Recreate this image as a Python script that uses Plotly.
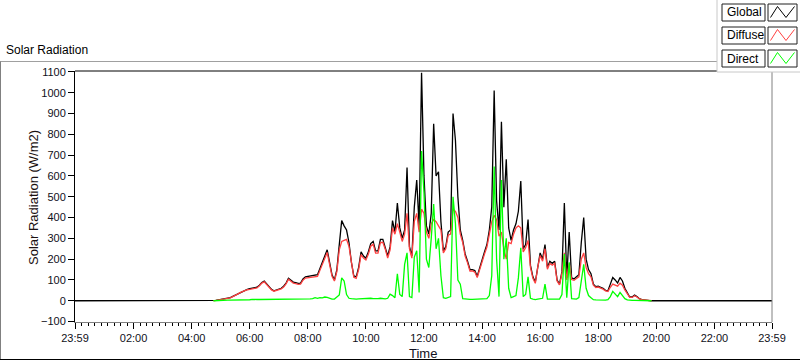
import plotly.graph_objects as go

# ---------------- data (W/m2), 5-minute samples starting 04:45 ----------------
START_MIN = 285   # 04:45
STEP_MIN = 5
DAY_START = -1    # 23:59 of previous day
DAY_END = 1439    # 23:59

GLOBAL = [
    0, 2, 4,
    6, 8, 11, 12, 15, 21, 27, 34, 41, 47, 51, 55,
    58, 60, 60, 65, 75, 88, 95, 82, 65, 55, 48, 52,
    56, 60, 70, 85, 108, 98, 90, 87, 84, 85, 105, 115,
    117, 118, 120, 122, 125, 155, 185, 215, 245, 185, 125, 100,
    150, 270, 385, 360, 340, 280, 185, 120, 115, 160, 235, 215,
    205, 235, 275, 285, 240, 240, 295, 295, 260, 215, 260, 385,
    330, 470, 350, 300, 340, 640, 260, 215, 450, 580, 360, 1095,
    600, 360, 320, 420, 850, 600, 620, 380, 240, 260, 330, 340,
    900, 770, 500, 340, 290, 225, 190, 150, 150, 145, 118, 160,
    195, 235, 270, 340, 450, 1010, 480, 340, 860, 450, 680, 350,
    290, 340, 370, 430, 575, 250, 270, 390, 170, 115, 90, 170,
    230, 200, 270, 160, 190, 180, 190, 100, 80, 140, 470, 110,
    330, 110, 105, 115, 125, 280, 400, 200, 150, 130, 80, 68,
    70, 65, 60, 50, 48, 80, 112, 100, 85, 112, 95, 60,
    35, 18, 18, 27, 20, 10, 6, 4, 2, 0, 0,
]

DIFFUSE = [
    0, 2, 4,
    6, 8, 10, 11, 14, 20, 25, 32, 39, 45, 49, 53,
    55, 57, 57, 62, 72, 85, 91, 79, 62, 52, 46, 49,
    53, 57, 66, 81, 103, 93, 85, 82, 79, 80, 99, 109,
    111, 111, 113, 115, 117, 146, 175, 204, 232, 175, 118, 95,
    140, 245, 285, 290, 295, 262, 175, 113, 108, 150, 222, 205,
    196, 223, 262, 272, 229, 229, 280, 281, 248, 205, 245, 350,
    320, 370, 330, 285, 320, 420, 250, 205, 380, 420, 330, 440,
    420, 330, 300, 370, 390, 380, 360, 340, 230, 250, 315, 320,
    440, 430, 400, 320, 280, 215, 182, 143, 143, 138, 112, 152,
    186, 224, 258, 318, 380, 410, 390, 310, 330, 250, 200, 280,
    275, 320, 350, 360, 350, 235, 255, 290, 160, 108, 84, 160,
    218, 190, 250, 152, 180, 171, 180, 95, 76, 130, 230, 100,
    180, 102, 98, 107, 115, 200, 230, 160, 130, 115, 75, 64,
    66, 61, 56, 47, 45, 65, 80, 75, 70, 85, 75, 52,
    31, 16, 16, 24, 18, 9, 5, 3, 2, 0, 0,
]

DIRECT = [
    0, 1, 2,
    2, 2, 3, 3, 3, 3, 4, 4, 5, 5, 6, 6,
    5, 7, 5, 6, 6, 6, 6, 6, 6, 6, 6, 6,
    6, 6, 6, 6, 7, 7, 7, 7, 7, 7, 8, 8,
    9, 9, 10, 15, 12, 15, 14, 18, 16, 12, 8, 8,
    20, 28, 110, 95, 30, 12, 10, 8, 8, 9, 10, 8,
    9, 10, 12, 10, 9, 10, 12, 10, 9, 12, 32, 25,
    15, 130, 30, 20, 175, 230, 20, 15, 210, 240, 40, 720,
    520, 200, 160, 300, 465, 250, 300, 120, 15, 12, 15, 20,
    500, 370, 100, 80, 10, 8, 8, 7, 7, 7, 7, 8,
    8, 10, 10, 25, 120, 645, 200, 20, 580, 200, 300, 60,
    15, 20, 25, 110, 255, 20, 30, 115, 12, 8, 6, 8,
    10, 12, 80, 8, 8, 8, 8, 6, 8, 30, 225, 15,
    185, 10, 8, 8, 15, 90, 175, 60, 25, 15, 5, 4,
    3, 3, 3, 3, 5, 20, 45, 30, 20, 40, 25, 10,
    4, 2, 2, 2, 2, 1, 1, 1, 0, 0, 0,
]

X_TICK_VALS = [-1, 120, 240, 360, 480, 600, 720, 840, 960, 1080, 1200, 1320, 1439]
X_TICK_TEXT = ["23:59", "02:00", "04:00", "06:00", "08:00", "10:00", "12:00",
               "14:00", "16:00", "18:00", "20:00", "22:00", "23:59"]

SERIES_NAMES = ["Global", "Diffuse", "Direct"]
SERIES_COLORS = ["#000000", "#ff4040", "#00ff00"]

times = [START_MIN + i * STEP_MIN for i in range(len(GLOBAL))]

# ---------------- figure ----------------
W, H = 800, 361
PL, PT, PW, PH = 75, 71, 697, 251


def px(x):
    return (x - PL) / PW


def py(y):
    return (PT + PH - y) / PH


FONT = "Liberation Sans"
TXT = "#101020"

fig = go.Figure()
fig.add_trace(go.Scatter(x=[DAY_START] + times + [DAY_END], y=[0] + GLOBAL + [0],
                         mode="lines", name=SERIES_NAMES[0],
                         line=dict(color=SERIES_COLORS[0], width=1.3)))
fig.add_trace(go.Scatter(x=times, y=DIFFUSE, mode="lines", name=SERIES_NAMES[1],
                         line=dict(color=SERIES_COLORS[1], width=1.3)))
fig.add_trace(go.Scatter(x=times, y=DIRECT, mode="lines", name=SERIES_NAMES[2],
                         line=dict(color=SERIES_COLORS[2], width=1.3)))

fig.update_layout(
    width=W, height=H,
    margin=dict(l=PL, r=W - PL - PW, t=PT, b=H - PT - PH, pad=0, autoexpand=False),
    paper_bgcolor="white", plot_bgcolor="white",
    showlegend=False,
    font=dict(family=FONT, size=11, color=TXT),
)

fig.update_xaxes(
    range=[DAY_START, DAY_END], automargin=False,
    tickmode="array", tickvals=X_TICK_VALS, ticktext=X_TICK_TEXT,
    ticks="outside", ticklen=6, tickwidth=1, tickcolor="#000000",
    showgrid=False, zeroline=False,
    showline=True, linecolor="#808080", linewidth=1,
    tickfont=dict(family=FONT, size=11, color=TXT),
    minor=dict(tickmode="linear", tick0=0, dtick=120 / 9, ticks="outside",
               ticklen=3, tickcolor="#000000", showgrid=False),
)
fig.update_yaxes(
    range=[-102, 1104], automargin=False,
    tickmode="linear", tick0=0, dtick=100,
    ticks="outside", ticklen=6, tickwidth=1, tickcolor="#000000",
    showgrid=False, zeroline=False,
    showline=True, linecolor="#000000", linewidth=1,
    tickfont=dict(family=FONT, size=11, color=TXT),
)

shapes = []
# plot frame: top black, right gray
shapes.append(dict(type="line", xref="paper", yref="paper", x0=0, x1=1, y0=1, y1=1,
                   line=dict(color="#000000", width=1)))
shapes.append(dict(type="line", xref="paper", yref="paper", x0=1, x1=1, y0=0, y1=1,
                   line=dict(color="#808080", width=1)))
# outer panel
shapes.append(dict(type="line", xref="paper", yref="paper", x0=px(0), x1=px(717),
                   y0=py(61.5), y1=py(61.5), line=dict(color="#a0a0a0", width=1)))
shapes.append(dict(type="line", xref="paper", yref="paper", x0=px(0.5), x1=px(0.5),
                   y0=py(61.5), y1=py(360), line=dict(color="#808080", width=1)))
shapes.append(dict(type="line", xref="paper", yref="paper", x0=px(0), x1=px(800),
                   y0=py(359.5), y1=py(359.5), line=dict(color="#000000", width=1)))
# legend panel
shapes.append(dict(type="rect", xref="paper", yref="paper", x0=px(717), x1=px(801),
                   y0=py(72), y1=py(-1), fillcolor="white",
                   line=dict(color="#c8c8c8", width=1)))

annotations = []
ROW_TOPS = [4, 27, 50]
for name, color, top in zip(SERIES_NAMES, SERIES_COLORS, ROW_TOPS):
    shapes.append(dict(type="rect", xref="paper", yref="paper", x0=px(722), x1=px(765),
                       y0=py(top + 17), y1=py(top), fillcolor="white",
                       line=dict(color="#202020", width=1)))
    shapes.append(dict(type="rect", xref="paper", yref="paper", x0=px(768), x1=px(797),
                       y0=py(top + 17), y1=py(top), fillcolor="white",
                       line=dict(color="#202020", width=1)))
    path = "M {:.5f} {:.5f} L {:.5f} {:.5f} L {:.5f} {:.5f} L {:.5f} {:.5f}".format(
        px(770.5), py(top + 13.5), px(777.5), py(top + 2.5),
        px(786), py(top + 13.5), px(794.5), py(top + 2.5))
    shapes.append(dict(type="path", xref="paper", yref="paper", path=path,
                       line=dict(color=color, width=1)))
    annotations.append(dict(text=name, xref="paper", yref="paper", x=px(724.5),
                            y=py(top + 8.5), xanchor="left", yanchor="middle",
                            showarrow=False, font=dict(family=FONT, size=12, color="#000000")))

annotations.append(dict(text="Solar Radiation", xref="paper", yref="paper", x=px(4),
                        y=py(50), xanchor="left", yanchor="middle", showarrow=False,
                        font=dict(family=FONT, size=12, color="#000000")))
annotations.append(dict(text="Solar Radiation (W/m2)", xref="paper", yref="paper", x=px(33),
                        y=py(198), xanchor="center", yanchor="middle", textangle=-90,
                        showarrow=False, font=dict(family=FONT, size=13, color="#1a1010")))
annotations.append(dict(text="Time", xref="paper", yref="paper", x=px(423),
                        y=py(353), xanchor="center", yanchor="middle", showarrow=False,
                        font=dict(family=FONT, size=13, color="#101020")))

fig.update_layout(shapes=shapes, annotations=annotations)

fig.write_html("out.html", config={"displayModeBar": False, "staticPlot": True},
               post_script="document.body.style.margin='0';document.body.style.overflow='hidden';")
